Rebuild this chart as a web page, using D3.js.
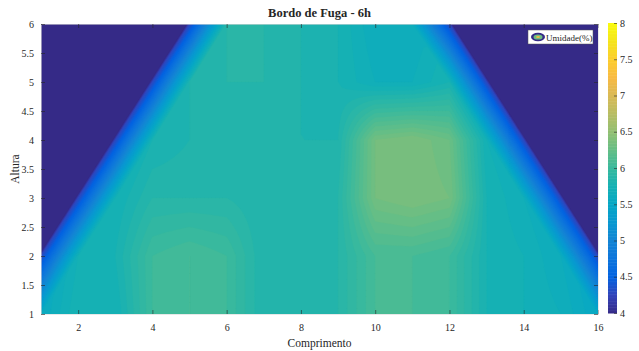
<!DOCTYPE html>
<html lang="pt">
<head>
<meta charset="UTF-8">
<title>Bordo de Fuga - 6h</title>
<script src="https://cdn.jsdelivr.net/npm/d3@7"></script>
<style>
  body { margin: 0; background: #fff; }
  text { font-family: "Liberation Serif", "DejaVu Serif", serif; fill: #262626; }
</style>
</head>
<body>
<div id="chart"></div>
<script>

// grid positions
const comprimento = [1, 2, 3, 4, 5, 6, 7, 8, 9, 10, 11, 12, 13, 14, 15, 16];
const altura = [1, 2, 3, 4, 5, 6];

// humidity (%) per row of altura, left to right along comprimento
const umidY1 = [5.6, 5.8, 5.75, 6.05, 6.1, 6.05, 5.85, 5.85, 5.9, 6.1, 6.1, 6.05, 5.8, 5.75, 5.7, 5.55];
const umidY2 = [4.3, 5.75, 5.8, 6.05, 6.1, 6.05, 5.85, 5.85, 5.9, 6.1, 6.1, 6.05, 5.8, 5.75, 5.65, 4.3];
const umidY3 = [0, 4.3, 5.75, 5.9, 5.9, 5.9, 5.85, 5.85, 5.9, 6.35, 6.4, 6.35, 5.8, 5.7, 4.3, 0];
const umidY4 = [0, 0, 4.3, 5.8, 5.85, 5.85, 5.85, 5.85, 5.85, 6.35, 6.4, 6.3, 5.75, 4.3, 0, 0];
const umidY5 = [0, 0, 0, 4.3, 5.85, 5.9, 5.9, 5.85, 5.8, 5.7, 5.7, 5.8, 4.3, 0, 0, 0];
const umidY6 = [0, 0, 0, 0, 4.3, 5.9, 5.9, 5.85, 5.8, 5.65, 5.65, 4.3, 0, 0, 0, 0];
const umidade = [umidY1, umidY2, umidY3, umidY4, umidY5, umidY6];

const xTicks = [2, 4, 6, 8, 10, 12, 14, 16];
const yTicks = [1, 1.5, 2, 2.5, 3, 3.5, 4, 4.5, 5, 5.5, 6];
const cTicks = [4, 4.5, 5, 5.5, 6, 6.5, 7, 7.5, 8];
const cLimits = [4, 8];

// parula colormap (every 4th entry)
const parula = [
  [0.2081, 0.1663, 0.5292], [0.1959, 0.2645, 0.7279], [0.0117, 0.3875, 0.8820],
  [0.0498, 0.4586, 0.8641], [0.0793, 0.5200, 0.8312], [0.0343, 0.5966, 0.8199],
  [0.0228, 0.6535, 0.7768], [0.0843, 0.6928, 0.7062], [0.2178, 0.7250, 0.6193],
  [0.3953, 0.7459, 0.5244], [0.5709, 0.7485, 0.4494], [0.7184, 0.7411, 0.3905],
  [0.8507, 0.7299, 0.3360], [0.9739, 0.7314, 0.2666], [0.9880, 0.8066, 0.1794],
  [0.9589, 0.8949, 0.1132], [0.9763, 0.9831, 0.0538]
];

const W = 639, H = 351;
const plot = {left: 41, right: 598, top: 24, bottom: 314};
const fmt = d => String(d);

const svg = d3.select("#chart").append("svg")
    .attr("width", W)
    .attr("height", H);

const x = d3.scaleLinear().domain([1, 16]).range([plot.left, plot.right]);
const y = d3.scaleLinear().domain([1, 6]).range([plot.bottom, plot.top]);

const color = d3.scaleLinear()
    .domain(parula.map((d, i) => cLimits[0] + (cLimits[1] - cLimits[0]) * i / (parula.length - 1)))
    .range(parula.map(c => d3.rgb(c[0] * 255, c[1] * 255, c[2] * 255)))
    .clamp(true);

// resample the grid before contouring: bilinear inside, linear triangles
// near the sloping edge so that the edge stays straight
const k = 10;
const nx = (comprimento.length - 1) * k + 1;
const ny = (altura.length - 1) * k + 1;
const values = new Array(nx * ny);
function sample(gxv, gyv) {
  const i0 = Math.min(Math.floor(gxv), comprimento.length - 2), fx = gxv - i0;
  const j0 = Math.min(Math.floor(gyv), altura.length - 2), fy = gyv - j0;
  const a = umidade[j0][i0], b = umidade[j0][i0 + 1];
  const c = umidade[j0 + 1][i0], d = umidade[j0 + 1][i0 + 1];
  if (Math.min(a, b, c, d) > 5) {
    return (a * (1 - fx) + b * fx) * (1 - fy) + (c * (1 - fx) + d * fx) * fy;
  }
  if (i0 < 7) {
    // diagonal a-d
    return fx >= fy ? a + (b - a) * fx + (d - b) * fy
                    : a + (c - a) * fy + (d - c) * fx;
  }
  // diagonal b-c
  return fx + fy <= 1 ? a + (b - a) * fx + (c - a) * fy
                      : d + (c - d) * (1 - fx) + (b - d) * (1 - fy);
}
for (let j = 0; j < ny; j++) {
  for (let i = 0; i < nx; i++) {
    values[i + j * nx] = sample(i / k, j / k);
  }
}

const levels = d3.range(4, 8.0001, 0.05);
const contours = d3.contours().size([nx, ny]).thresholds(levels)(values);

const gx = d3.scaleLinear().domain([0.5, nx - 0.5]).range([1, 16]);
const gy = d3.scaleLinear().domain([0.5, ny - 0.5]).range([1, 6]);
const proj = d3.geoTransform({
  point: function(px, py) { this.stream.point(x(gx(px)), y(gy(py))); }
});
const path = d3.geoPath(proj);

svg.append("clipPath").attr("id", "clip")
  .append("rect")
    .attr("x", plot.left).attr("y", plot.top)
    .attr("width", plot.right - plot.left).attr("height", plot.bottom - plot.top);

const area = svg.append("g").attr("clip-path", "url(#clip)");

// values below the colour limit take the first colour
area.append("rect")
    .attr("x", plot.left).attr("y", plot.top)
    .attr("width", plot.right - plot.left).attr("height", plot.bottom - plot.top)
    .attr("fill", color(cLimits[0]));

area.selectAll("path")
  .data(contours)
  .join("path")
    .attr("d", path)
    .attr("fill", d => color(d.value))
    .attr("stroke", d => color(d.value))
    .attr("stroke-width", 0.3);

// axes, ticks inside on all four sides
const tickLen = 4;
const axisG = svg.append("g").attr("font-size", 10.5);

axisG.append("g").attr("transform", `translate(0,${plot.bottom})`)
    .call(d3.axisBottom(x).tickValues(xTicks).tickFormat(fmt).tickSizeInner(-tickLen).tickSizeOuter(0).tickPadding(10));
axisG.append("g").attr("transform", `translate(0,${plot.top})`)
    .call(d3.axisTop(x).tickValues(xTicks).tickSizeInner(-tickLen).tickSizeOuter(0).tickFormat(""));
axisG.append("g").attr("transform", `translate(${plot.left},0)`)
    .call(d3.axisLeft(y).tickValues(yTicks).tickFormat(fmt).tickSizeInner(-tickLen).tickSizeOuter(0).tickPadding(7));
axisG.append("g").attr("transform", `translate(${plot.right},0)`)
    .call(d3.axisRight(y).tickValues(yTicks).tickSizeInner(-tickLen).tickSizeOuter(0).tickFormat(""));

axisG.selectAll(".domain").attr("stroke", "#d8d8d8").attr("stroke-width", 0.6);
axisG.selectAll(".tick line").attr("stroke", "#262626").attr("stroke-width", 0.6);
axisG.selectAll(".tick text").attr("font-family", "Liberation Serif").attr("fill", "#262626");

// title and labels
svg.append("text")
    .attr("x", (plot.left + plot.right) / 2)
    .attr("y", 17)
    .attr("text-anchor", "middle")
    .attr("font-weight", "bold")
    .attr("font-size", 12.5)
    .text("Bordo de Fuga - 6h");

svg.append("text")
    .attr("x", (plot.left + plot.right) / 2)
    .attr("y", 347)
    .attr("text-anchor", "middle")
    .attr("font-size", 11.5)
    .text("Comprimento");

svg.append("text")
    .attr("transform", `translate(19,${(plot.top + plot.bottom) / 2}) rotate(-90)`)
    .attr("text-anchor", "middle")
    .attr("font-size", 11.5)
    .text("Altura");

// colorbar
const cb = {left: 608, width: 9, top: 23, bottom: 313};
const cy = d3.scaleLinear().domain(cLimits).range([cb.bottom, cb.top]);
const cSteps = d3.range(cLimits[0], cLimits[1], 0.02);
svg.append("g").selectAll("rect")
  .data(cSteps)
  .join("rect")
    .attr("x", cb.left)
    .attr("y", d => cy(d + 0.02))
    .attr("width", cb.width)
    .attr("height", d => cy(d) - cy(d + 0.02) + 0.5)
    .attr("fill", d => color(d + 0.01));

const cAxis = svg.append("g")
    .attr("transform", `translate(${cb.left + cb.width},0)`)
    .attr("font-size", 10)
    .call(d3.axisRight(cy).tickValues(cTicks).tickFormat(fmt).tickSizeInner(-3).tickSizeOuter(0).tickPadding(3));
cAxis.select(".domain").remove();
cAxis.selectAll(".tick line").attr("stroke", "#262626").attr("stroke-width", 0.6);
cAxis.selectAll(".tick text").attr("font-family", "Liberation Serif").attr("fill", "#262626");

// legend
const lg = svg.append("g").attr("transform", "translate(528,30)");
lg.append("rect")
    .attr("width", 65).attr("height", 14)
    .attr("fill", "#fff").attr("stroke", "#555").attr("stroke-width", 0.5);
lg.append("ellipse").attr("cx", 10).attr("cy", 7).attr("rx", 7).attr("ry", 4.2).attr("fill", color(4));
lg.append("ellipse").attr("cx", 10).attr("cy", 7).attr("rx", 4.5).attr("ry", 2.6).attr("fill", color(6.3));
lg.append("ellipse").attr("cx", 10).attr("cy", 7).attr("rx", 2).attr("ry", 1.1).attr("fill", color(7.2));
lg.append("text")
    .attr("x", 18).attr("y", 10.5)
    .attr("font-size", 9)
    .text("Umidade(%)");

</script>
</body>
</html>
